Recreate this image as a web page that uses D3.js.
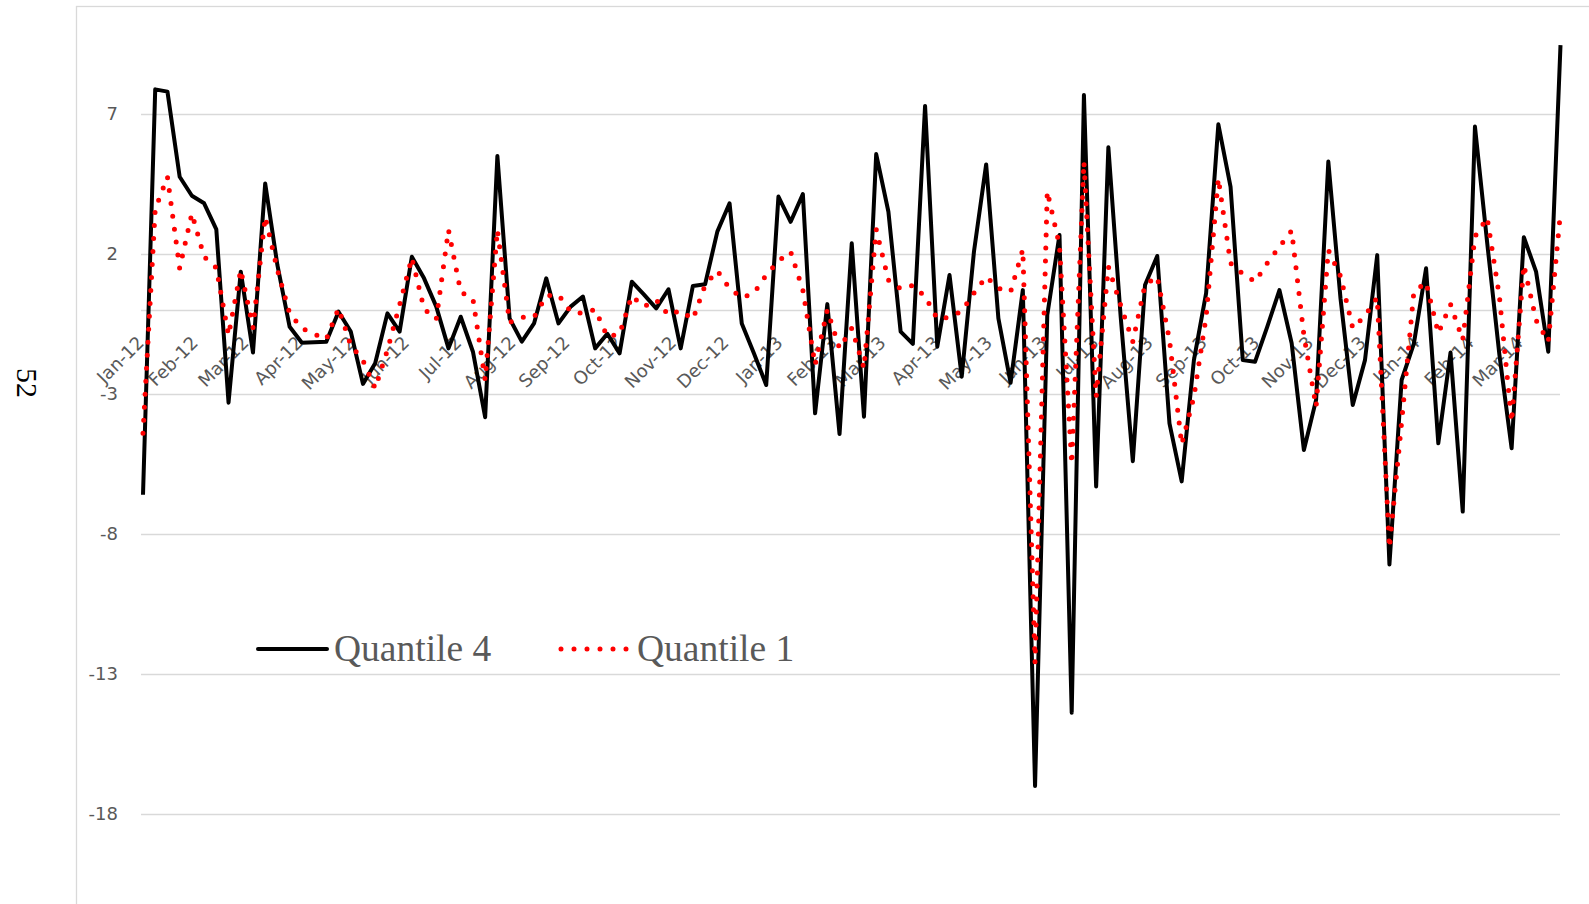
<!DOCTYPE html>
<html>
<head>
<meta charset="utf-8">
<script src="https://cdn.jsdelivr.net/npm/d3@7"></script>
<style>
  body { margin: 0; background: #fff; }
  svg { display: block; }
</style>
</head>
<body>
<svg width="1589" height="904"></svg>
<script>

// weekly series, first week starts Jan 1 2012
var firstWeek = "2012-01-01";

var quantile4 = [
  -6.6, 7.88, 7.8, 4.76, 4.08, 3.81, 2.88, -3.31, 1.37, -1.52,
  4.52, 1.6, -0.6, -1.17, -1.15, -1.13, -0.06, -0.77, -2.64, -1.9,
  -0.12, -0.77, 1.9, 1.13, 0.12, -1.37, -0.24, -1.49, -3.83, 5.5,
  -0.3, -1.13, -0.48, 1.13, -0.48, 0.12, 0.48, -1.37, -0.85, -1.55,
  1.01, 0.55, 0.06, 0.74, -1.37, 0.86, 0.92, 2.8, 3.81, -0.48,
  -1.55, -2.68, 4.05, 3.15, 4.14, -3.69, 0.21, -4.43, 2.38, -3.81,
  5.57, 3.51, -0.77, -1.21, 7.29, -1.31, 1.25, -2.38, 2.08, 5.2,
  -0.3, -2.6, 0.71, -17.0, -0.18, 2.68, -14.38, 7.68, -6.3, 5.81,
  -0.2, -5.4, 0.89, 1.93, -4.05, -6.12, -1.79, 0.6, 6.63, 4.4,
  -1.79, -1.85, -0.6, 0.71, -1.19, -5.0, -3.21, 5.3, 0.4, -3.39,
  -1.79, 1.96, -9.09, -2.5, -1.2, 1.49, -4.76, -1.52, -7.2, 6.55,
  2.4, -1.6, -4.94, 2.6, 1.37, -1.49, 9.46
];

var quantile1 = [
  -4.4, 3.6, 4.76, 1.49, 3.45, 1.9, 1.5, -0.9, 1.43, -0.63,
  3.33, 1.43, -0.12, -0.65, -0.86, -1.05, 0.06, -1.25, -1.8, -2.8,
  -1.43, 0.18, 1.87, 0.04, -0.33, 2.86, 0.65, 0.4, -2.5, 2.86,
  -0.44, -0.26, -0.26, 0.51, 0.54, -0.06, -0.12, 0.02, -0.95, -0.86,
  0.5, 0.12, 0.36, -0.18, -0.02, -0.33, 0.89, 1.4, 0.77, 0.44,
  0.6, 1.25, 1.75, 2.08, 0.71, -1.96, 0.0, -1.37, -0.65, -2.08,
  2.88, 1.07, 0.76, 0.88, 0.48, -0.31, -0.26, -0.04, 0.6, 1.19,
  0.77, 0.65, 2.17, -12.6, 4.24, 2.3, -5.5, 5.3, -3.1, 1.55,
  0.18, -1.13, 0.9, 1.19, -1.07, -4.8, -3.1, -0.24, 4.7, 1.67,
  1.29, 1.01, 1.67, 2.26, 2.83, -0.9, -3.45, 2.14, 1.21, -0.65,
  -0.21, 0.45, -8.5, -4.0, 0.65, 0.99, -0.83, 0.2, -1.07, 2.62,
  3.3, 0.48, -4.0, 1.61, -0.36, -1.13, 3.5
];

var monthLabels = [
  "Jan-12", "Feb-12", "Mar-12", "Apr-12", "May-12", "Jun-12", "Jul-12", "Aug-12", "Sep-12",
  "Oct-12", "Nov-12", "Dec-12", "Jan-13", "Feb-13", "Mar-13", "Apr-13", "May-13", "Jun-13",
  "Jul-13", "Aug-13", "Sep-13", "Oct-13", "Nov-13", "Dec-13", "Jan-14", "Feb-14", "Mar-14"
];

var yTicks = [7, 2, -3, -8, -13, -18];

var seriesNames = ["Quantile 4", "Quantile 1"];
var yTitle = "52";

var svg = d3.select("svg");

var parseDay = d3.timeParse("%Y-%m-%d"),
    parseMonth = d3.timeParse("%b-%y");

var start = parseDay(firstWeek);
var dates = quantile4.map(function(d, i) { return d3.timeWeek.offset(start, i); });

var x = d3.scaleTime()
    .domain([dates[0], dates[dates.length - 1]])
    .range([143, 1560.5]);

var y = d3.scaleLinear()
    .domain([-18, 7])
    .range([814, 114]);

var gridColor = "#d9d9d9",
    textColor = "#595959";

// chart area frame (only top and left edges are inside the picture)
svg.append("rect")
    .attr("x", 76.5).attr("y", 6.5)
    .attr("width", 1700).attr("height", 1000)
    .attr("fill", "none")
    .attr("stroke", gridColor)
    .attr("stroke-width", 1.3);

// gridlines + zero axis line
var yAxis = d3.axisLeft(y)
    .tickValues(yTicks.concat([0]))
    .tickSize(-(1560 - 141))
    .tickPadding(23)
    .tickFormat(function(d) { return d === 0 ? "" : d; });

var gy = svg.append("g")
    .attr("transform", "translate(141,0)")
    .call(yAxis);
gy.select(".domain").remove();
gy.selectAll(".tick line")
    .attr("stroke", gridColor)
    .attr("stroke-width", 1.3);
gy.selectAll(".tick text")
    .attr("fill", textColor)
    .attr("font-family", "DejaVu Sans")
    .attr("font-size", 18);

// month labels on the zero line
var gx = svg.append("g").attr("class", "months");
gx.selectAll("text")
    .data(monthLabels)
    .enter().append("text")
      .attr("transform", function(d) {
        return "translate(" + (x(parseMonth(d)) + 2) + "," + 344 + ") rotate(-45)";
      })
      .attr("text-anchor", "end")
      .attr("fill", textColor)
      .attr("font-family", "DejaVu Sans")
      .attr("font-size", 18)
      .text(function(d) { return d; });

var line = function(values) {
  return d3.line()
    .x(function(d, i) { return x(dates[i]); })
    .y(function(d) { return y(d); })(values);
};

svg.append("path")
    .attr("d", line(quantile4))
    .attr("fill", "none")
    .attr("stroke", "#000")
    .attr("stroke-width", 4)
    .attr("stroke-linejoin", "round");

svg.append("path")
    .attr("d", line(quantile1))
    .attr("fill", "none")
    .attr("stroke", "#ff0000")
    .attr("stroke-width", 5)
    .attr("stroke-linecap", "round")
    .attr("stroke-dasharray", "0 13");

// y axis title
svg.append("text")
    .attr("transform", "translate(17,383) rotate(90)")
    .attr("text-anchor", "middle")
    .attr("font-family", "Liberation Serif")
    .attr("font-size", 30)
    .attr("fill", "#000")
    .text(yTitle);

// legend
var legend = svg.append("g").attr("class", "legend");

legend.append("line")
    .attr("x1", 258).attr("x2", 327)
    .attr("y1", 649).attr("y2", 649)
    .attr("stroke", "#000")
    .attr("stroke-width", 4)
    .attr("stroke-linecap", "round");
legend.append("text")
    .attr("x", 334).attr("y", 661)
    .attr("font-family", "Liberation Serif")
    .attr("font-size", 37.5)
    .attr("fill", textColor)
    .text(seriesNames[0]);

legend.append("line")
    .attr("x1", 561).attr("x2", 627)
    .attr("y1", 649).attr("y2", 649)
    .attr("stroke", "#ff0000")
    .attr("stroke-width", 5)
    .attr("stroke-linecap", "round")
    .attr("stroke-dasharray", "0 13");
legend.append("text")
    .attr("x", 637).attr("y", 661)
    .attr("font-family", "Liberation Serif")
    .attr("font-size", 37.5)
    .attr("fill", textColor)
    .text(seriesNames[1]);

</script>
</body>
</html>
